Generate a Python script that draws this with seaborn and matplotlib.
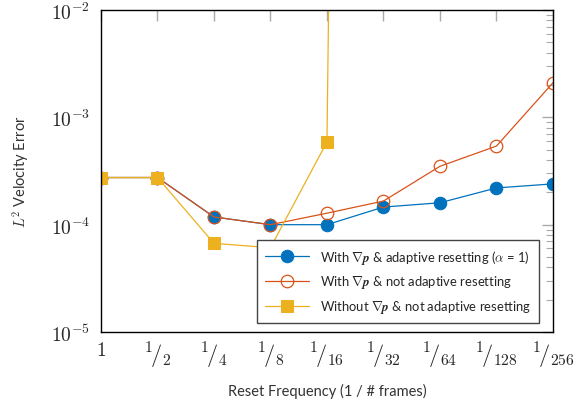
import numpy as np
import pandas as pd
import seaborn as sns
import matplotlib
matplotlib.use("Agg")
import matplotlib.pyplot as plt

### DATA
freq_den = ["1", "2", "4", "8", "16", "32", "64", "128", "256"]

# with grad p, adaptive resetting (alpha = 1)
adaptive = [2.75e-4, 2.75e-4, 1.18e-4, 1.0e-4, 1.0e-4, 1.46e-4, 1.6e-4, 2.2e-4, 2.4e-4]
# with grad p, not adaptive
not_adaptive = [2.75e-4, 2.75e-4, 1.18e-4, 1.0e-4, 1.28e-4, 1.66e-4, 3.5e-4, 5.4e-4, 2.1e-3]
# without grad p, not adaptive (blows up after 1/16)
no_grad = [2.75e-4, 2.75e-4, 6.7e-5, 6.1e-5, 5.9e-4, 1e40]

labels = [r"With $\nabla\boldsymbol{p}$ & adaptive resetting ($\alpha$ = 1)",
          r"With $\nabla\boldsymbol{p}$ & not adaptive resetting",
          r"Without $\nabla\boldsymbol{p}$ & not adaptive resetting"]

sns.set_style("white")
plt.rcParams['font.family'] = ['Lato', 'DejaVu Sans']
plt.rcParams['mathtext.fontset'] = 'cm'

fig = plt.figure(figsize=(5.76, 4.02), dpi=100)
ax = fig.add_axes([0.1753, 0.1716, 0.7847, 0.801])

# one frame per series, drawn in order so yellow ends on top
df_a = pd.DataFrame({"pos": np.arange(len(adaptive)), "err": adaptive})
df_n = pd.DataFrame({"pos": np.arange(len(not_adaptive)), "err": not_adaptive})
df_g = pd.DataFrame({"pos": np.arange(len(no_grad)), "err": no_grad})

sns.lineplot(data=df_a, x="pos", y="err", ax=ax, color="#0072BD", lw=0.9,
             marker="o", markersize=9, markerfacecolor="#0072BD",
             markeredgecolor="#0072BD", label=labels[0])
sns.lineplot(data=df_n, x="pos", y="err", ax=ax, color="#D95319", lw=0.9,
             marker="o", markersize=9, markerfacecolor="none",
             markeredgecolor="#D95319", markeredgewidth=0.9, label=labels[1])
sns.lineplot(data=df_g, x="pos", y="err", ax=ax, color="#EDB120", lw=0.9,
             marker="s", markersize=9, markerfacecolor="#EDB120",
             markeredgecolor="#EDB120", label=labels[2])

ax.set_yscale("log")
ax.set_ylim(1e-5, 1e-2)
ax.set_xlim(0, len(freq_den) - 1)
ax.set_xticks(range(len(freq_den)))
xt = [r"$1$"] + [r"$^{1}\!/_{" + d + "}$" for d in freq_den[1:]]
ax.set_xticklabels(xt, fontsize=16)
ax.get_xticklabels()[0].set_fontsize(14)
ax.set_yticks([1e-5, 1e-4, 1e-3, 1e-2])
ax.set_yticklabels([r"$10^{-5}$", r"$10^{-4}$", r"$10^{-3}$", r"$10^{-2}$"], fontsize=14)

ax.tick_params(which="both", direction="in", top=True, right=True, color="#aaaaaa")
ax.tick_params(which="major", length=8, width=1)
ax.tick_params(which="minor", length=5, width=0.8)
ax.tick_params(axis="x", pad=6)
ax.tick_params(axis="y", pad=8)
for s in ax.spines.values():
    s.set_color("black")
    s.set_linewidth(1)

ax.set_xlabel("Reset Frequency (1 / # frames)", fontsize=10.5, color="#333333", labelpad=9)
ax.set_ylabel(r"$L^2$ Velocity Error", fontsize=10.5, color="#333333", labelpad=14)

leg = ax.legend(loc="lower right", bbox_to_anchor=(0.969, 0.028), borderaxespad=0,
                fontsize=9.4, handlelength=3.4, frameon=True, fancybox=False,
                framealpha=1, edgecolor="#444444", borderpad=0.6, labelspacing=0.6)
leg.get_frame().set_linewidth(1)

fig.savefig("out.png", dpi=100)
